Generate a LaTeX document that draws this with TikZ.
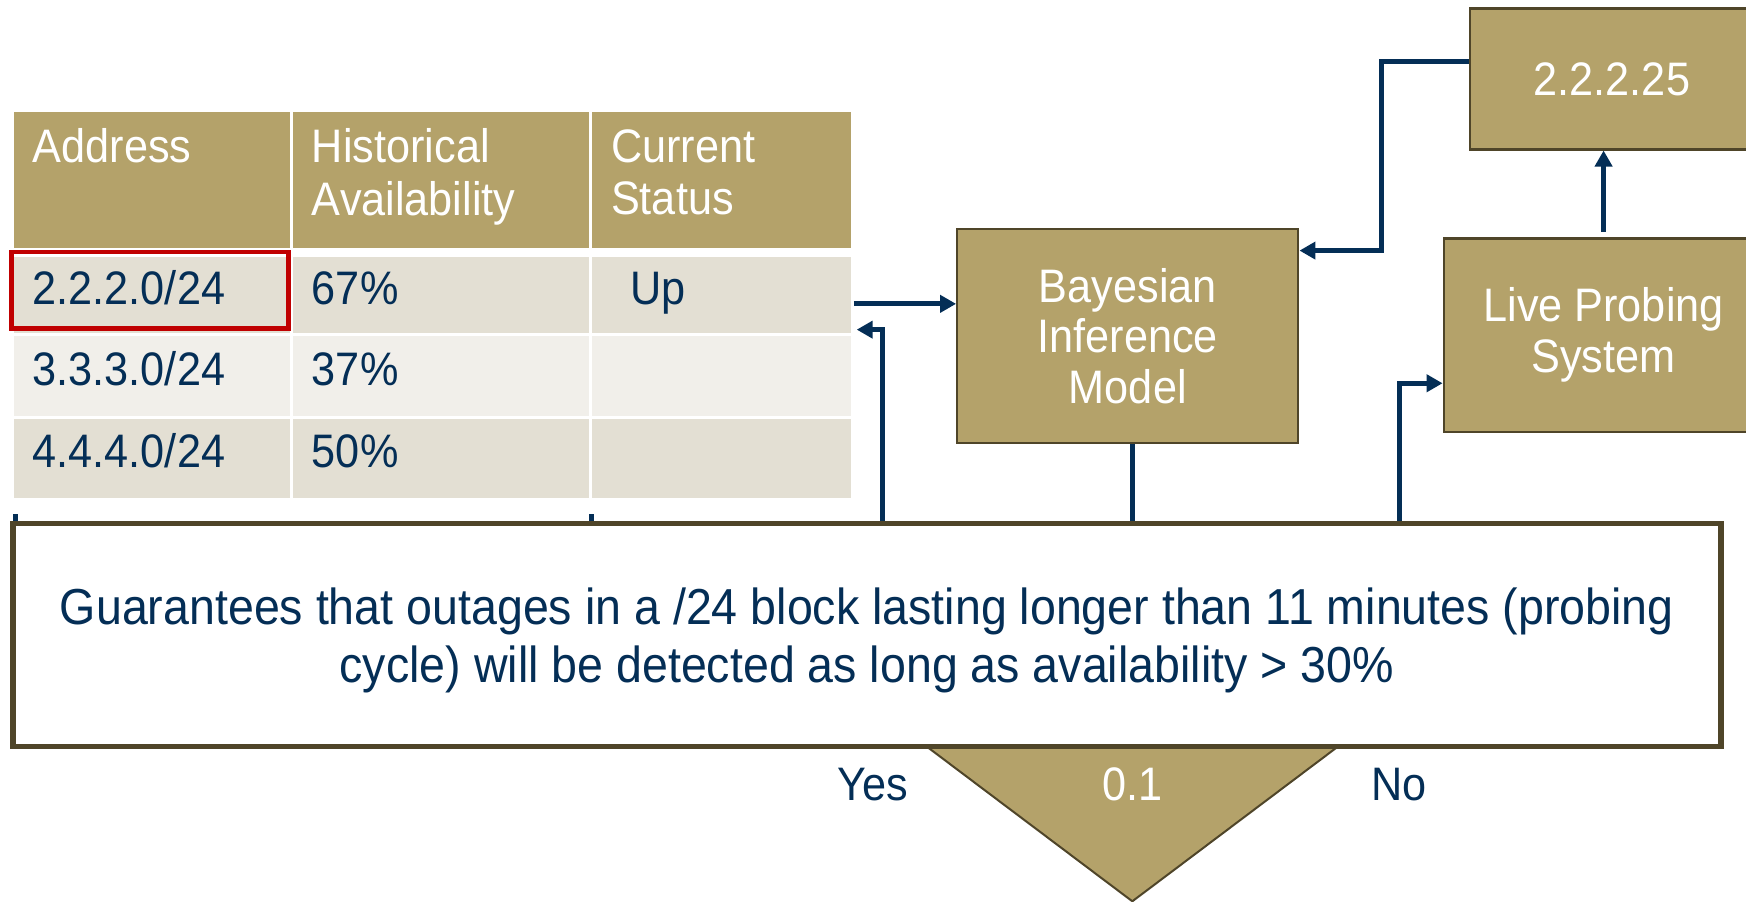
\documentclass[tikz,border=0pt]{standalone}
\usepackage{fontspec}
\setmainfont{Liberation Sans}[FakeStretch=0.92]
\usetikzlibrary{shapes.geometric, arrows.meta, positioning, fit}
\definecolor{goldtan}{RGB}{180,162,106}
\definecolor{edgeolive}{RGB}{79,69,41}
\definecolor{inkblue}{RGB}{4,46,86}
\definecolor{rowgray}{RGB}{227,223,211}
\definecolor{rowpale}{RGB}{241,239,234}
\definecolor{alertred}{RGB}{192,0,0}
\newcommand{\tblfont}{\fontsize{23.5}{26.2}\selectfont}
\newcommand{\blkfont}{\fontsize{23.5}{25.3}\selectfont}
\newcommand{\guarfont}{\fontsize{25.3}{28.7}\selectfont}

\begin{document}
\begin{tikzpicture}[x=0.5568pt, y=-0.5568pt,
  cell/.style={rectangle, inner xsep=9.5pt, inner ysep=0pt, align=left, font=\tblfont, text=inkblue},
  head/.style={cell, fill=goldtan, text=white, minimum height=67.9pt},
  darkrow/.style={cell, fill=rowgray, text height=17pt, text depth=8pt},
  lightrow/.style={cell, fill=rowpale, text height=17pt, text depth=8pt},
  colA/.style={text width=119.1pt},
  colB/.style={text width=129.1pt},
  colC/.style={text width=110.2pt},
  redbox/.style={draw=alertred, line width=2.2pt, inner sep=0pt},
  block/.style={rectangle, draw=edgeolive, line width=1.2pt, fill=goldtan, text=white, align=center, font=\blkfont},
  decision/.style={diamond, draw=edgeolive, line width=1pt, fill=goldtan},
  link/.style={line width=2.5pt, inkblue},
  arrow/.style={link, -{Triangle[length=8pt, width=8.5pt]}},
  lbl/.style={font=\tblfont, text=inkblue},
  note/.style={rectangle, draw=edgeolive, line width=2.8pt, fill=white, text=inkblue, align=center, font=\guarfont},
]
  \useasboundingbox (0,0) rectangle (1568,810);
  \clip (0,0) rectangle (1568,810);

  % table
  \node[head, colA, anchor=north west] (hA) at (12,100) {Address\\\strut};
  \node[head, colB, right=1.1pt of hA] (hB) {Historical\\Availability\strut};
  \node[head, colC, right=1.1pt of hB] (hC) {Current\\Status\strut};

  \node[darkrow, colA, minimum height=37.9pt, below=4.5pt of hA] (r1a) {2.2.2.0/24};
  \node[darkrow, colB, minimum height=37.9pt, right=1.1pt of r1a] (r1b) {67\%};
  \node[darkrow, colC, minimum height=37.9pt, right=1.1pt of r1b] (r1c) {\hspace*{9.5pt}Up};

  \node[lightrow, colA, minimum height=40.1pt, below=1.1pt of r1a] (r2a) {3.3.3.0/24};
  \node[lightrow, colB, minimum height=40.1pt, right=1.1pt of r2a] (r2b) {37\%};
  \node[lightrow, colC, minimum height=40.1pt, right=1.1pt of r2b] (r2c) {};

  \node[darkrow, colA, minimum height=39.5pt, below=1.1pt of r2a] (r3a) {4.4.4.0/24};
  \node[darkrow, colB, minimum height=39.5pt, right=1.1pt of r3a] (r3b) {50\%};
  \node[darkrow, colC, minimum height=39.5pt, right=1.1pt of r3b] (r3c) {};

  \node[redbox, fit=(r1a), xshift=-1pt, yshift=2.5pt] (pick) {};

  % blocks
  \node[block, minimum width=170.5pt, minimum height=107.1pt] (bayes) at (1012.8,301.9) {Bayesian\\Inference\\Model};
  \node[block, minimum width=142pt, minimum height=70.5pt] (addr) at (1447.6,70.8) {2.2.2.25};
  \node[block, minimum width=159.8pt, minimum height=96.7pt] (live) at (1440.1,300.9) {Live Probing\\System};
  \node[decision, minimum width=249pt, minimum height=187.5pt] (dec) at (1016.9,641.4) {};
  \node[font=\tblfont, text=white] (thr) at ([yshift=-34.9pt]dec.center) {0.1};
  \node[lbl] (yes) at ([xshift=-4.6pt, yshift=-35.4pt]dec.west) {Yes};
  \node[lbl] (no) at ([xshift=8.4pt, yshift=-35.4pt]dec.east) {No};

  % connectors
  \coordinate (tabout) at ([xshift=1.5pt, yshift=-4.3pt]r1c.east);
  \coordinate (tabin) at ([xshift=2.9pt, yshift=-17.2pt]r1c.east);
  \coordinate (tickA) at (13.5,462);
  \coordinate (tickB) at (531,462);
  \draw[arrow] (tabout) -- (tabout -| bayes.west);
  \draw[arrow] (dec.west) |- (tabin);
  \draw[link] (dec.north |- bayes.south) -- (dec.north);
  \draw[arrow] (dec.east) -- ++(15.7,0) |- ([yshift=-24.1pt]live.west);
  \draw[arrow, shorten <=2.8pt] (live.north) -- (live.north |- addr.south);
  \draw[arrow] ([yshift=8.9pt]addr.west) -- ++(-78,0) |- ([yshift=42.8pt]bayes.east);
  \draw[link] (tickA) -- ++(0,30);
  \draw[link] (tickB) -- ++(0,30);

  % statement on top
  \node[note, minimum width=854.1pt, minimum height=111.6pt] (gtee) at (778.5,570.2) {\rule{0pt}{24pt}Guarantees that outages in a /24 block lasting longer than 11 minutes (probing\\cycle) will be detected as long as availability > 30\%};
\end{tikzpicture}
\end{document}
